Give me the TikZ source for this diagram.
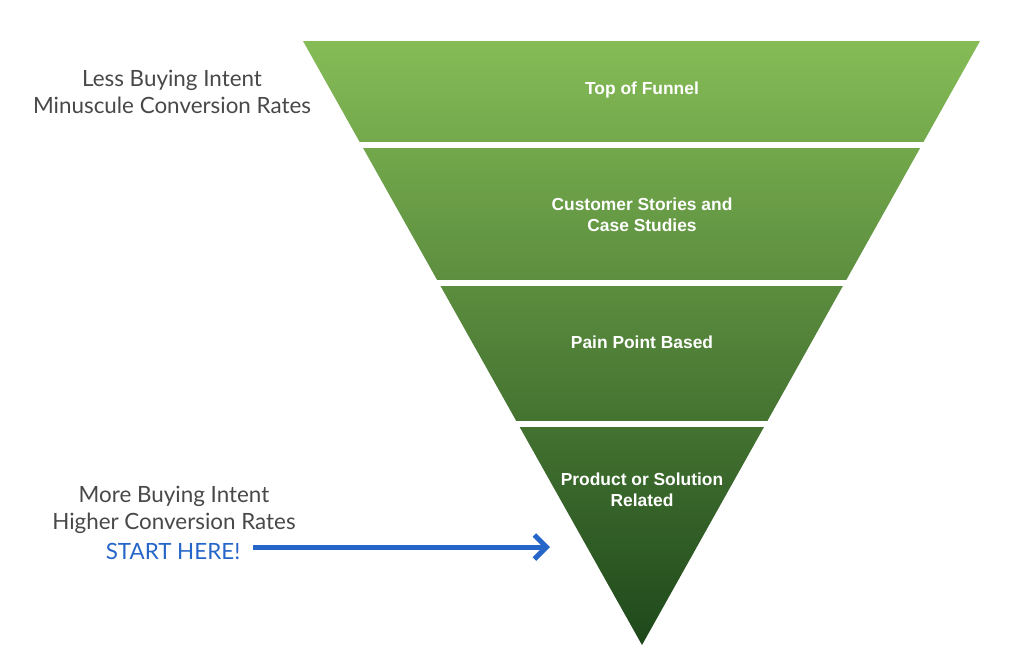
\documentclass[tikz,border=0pt]{standalone}
\usepackage{fontspec}
\setmainfont{Liberation Sans}
\newfontfamily\handfont{Lato}
\usetikzlibrary{arrows.meta}
\definecolor{funtop}{RGB}{133,188,86}
\definecolor{funbot}{RGB}{30,72,27}
\definecolor{notegray}{RGB}{72,72,72}
\definecolor{penblue}{RGB}{38,102,200}

\begin{document}
\begin{tikzpicture}[x=0.5pt,y=-0.5pt,
  fun/.style={text=white,align=center,font=\bfseries\fontsize{8.7}{10.5}\selectfont},
  note/.style={text=notegray,align=center,font=\handfont\fontsize{11.2}{13.5}\selectfont}]
\useasboundingbox (0,0) rectangle (1024,654);
\shade [top color=funtop,bottom color=funbot] (303,41) -- (980,41) -- (642,645) -- cycle;
\foreach \y in {142,280,421} {\fill [white] (290,\y) rectangle (990,\y+6);}

\node [fun] (top) at (642,90) {Top of Funnel};
\node [fun] (stories) at (642,215) {Customer Stories and\\Case Studies};
\node [fun] (pain) at (642,342) {Pain Point Based};
\node [fun] (product) at (642,490) {Product or Solution\\Related};

\node [note] (less) at (172,92) {Less Buying Intent\\Minuscule Conversion Rates};
\node [note] (more) at (174,510) {More Buying Intent\\Higher Conversion Rates};
\node [note,text=penblue] (start) at (173,551) {START HERE!};

\coordinate (aim) at (550,547);
\draw [penblue,line width=2.5pt,-{Straight Barb[length=6pt,width=12pt]}] ([xshift=3pt,yshift=2pt]start.east) -- (aim);
\end{tikzpicture}
\end{document}
